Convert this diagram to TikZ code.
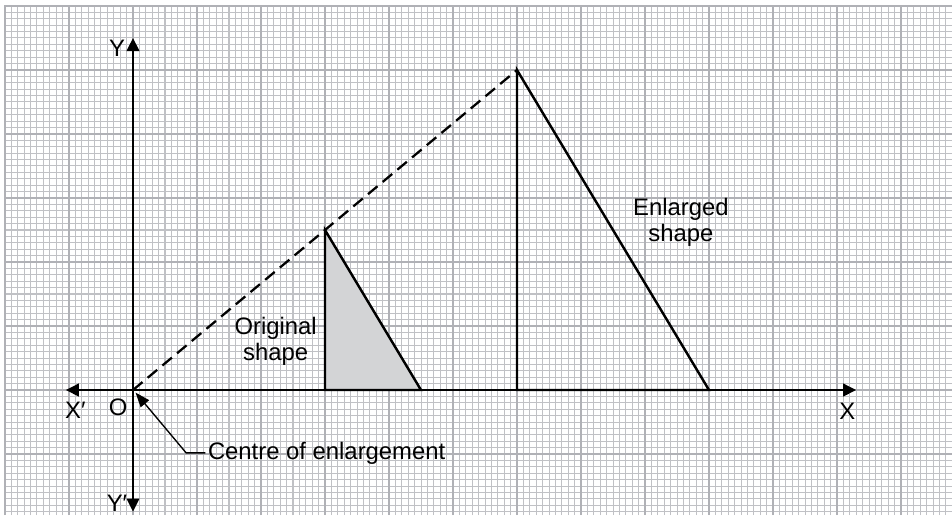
\documentclass[tikz,border=0pt]{standalone}
\usepackage{fontspec}
\setmainfont{Liberation Sans}
\usepackage{xcolor}
\usetikzlibrary{arrows.meta,positioning}
\definecolor{gridminor}{RGB}{192,193,197}
\definecolor{gridmajor}{RGB}{176,177,182}
\definecolor{shapefill}{RGB}{211,212,214}

\begin{document}
\begin{tikzpicture}[
    axis/.style={line width=0.9pt, -{Triangle[length=5.8pt, width=5.6pt]}},
    shapeline/.style={line width=1.1pt, line join=miter},
    ray/.style={line width=1pt, dash pattern=on 5.5pt off 3pt},
    leader/.style={line width=0.6pt, -{Triangle[length=6.5pt, width=4.8pt]}},
    lbl/.style={font=\fontsize{10.6}{11.5}\selectfont, align=center, inner sep=1pt},
  ]
  \useasboundingbox (-2.078,-1.953) rectangle (12.797,6.094);

  % Graph paper
  \draw[gridminor, line width=0.45pt, step=0.1] (-2,-1.953) grid (12.797,6);
  \draw[gridmajor, line width=0.9pt, step=1] (-2,-1.953) grid (12.797,6);
  \draw[gridmajor, line width=0.9pt] (-2,-1.953) -- (-2,6) -- (12.797,6);

  % Points
  \coordinate (o) at (0,0);
  \coordinate (a) at (3,0);
  \coordinate (b) at (3,2.5);
  \coordinate (c) at (4.5,0);
  \coordinate (a2) at (6,0);
  \coordinate (b2) at (6,5);
  \coordinate (c2) at (9,0);
  \coordinate (xpos) at (11.3,0);
  \coordinate (xneg) at (-1.05,0);
  \coordinate (ypos) at (0,5.5);
  \coordinate (yneg) at (0,-1.9);
  \coordinate (otip) at (0.04,-0.04);

  % Original shape (shaded)
  \fill[shapefill] (a) -- (b) -- (c) -- cycle;

  % Axes
  \draw[axis] (o) -- (xpos);
  \draw[axis] (o) -- (xneg);
  \draw[axis] (o) -- (ypos);
  \draw[axis] (o) -- (yneg);

  % Shapes and ray
  \draw[shapeline] (a) -- (b) -- (c) -- cycle;
  \draw[shapeline] (a2) -- (b2) -- (c2) -- cycle;
  \draw[ray] (o) -- (b2);

  % Labels
  \node[lbl] (ylab) at (-0.25,5.34) {Y};
  \node[lbl] (yneglab) at (-0.25,-1.77) {Y′};
  \node[lbl] (xlab) at (11.16,-0.34) {X};
  \node[lbl] (xneglab) at (-0.9,-0.31) {X′};
  \node[lbl] (olab) at (-0.23,-0.27) {O};
  \node[lbl] (origlab) at (2.23,0.76) {Original\\shape};
  \node[lbl] (enlab) at (8.56,2.62) {Enlarged\\shape};
  \node[lbl, anchor=base west] (centre) at (1.13,-1.078) {Centre of enlargement};
  \draw[leader] (centre.west) -- ++(-0.3,0) -- (otip);
\end{tikzpicture}
\end{document}
